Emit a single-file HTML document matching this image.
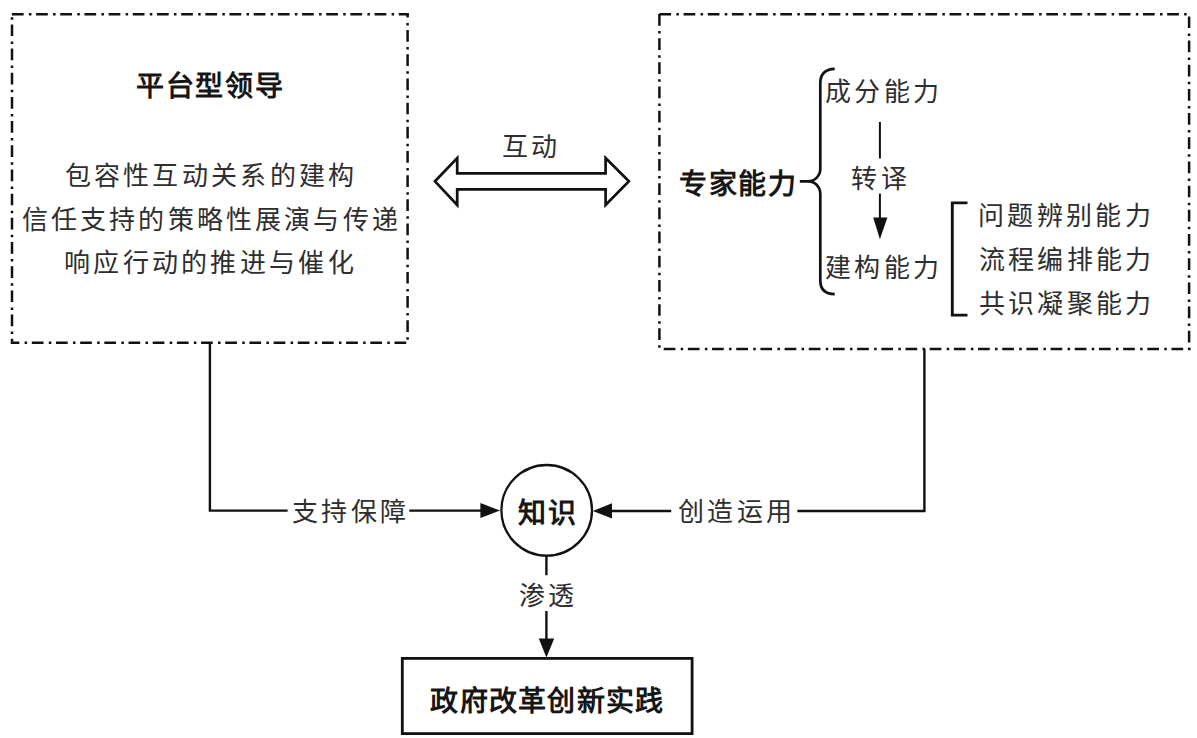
<!DOCTYPE html>
<html lang="zh-CN"><head><meta charset="utf-8">
<style>
html,body{margin:0;padding:0;background:#fff;}
body{width:1197px;height:738px;position:relative;overflow:hidden;font-family:"Liberation Serif",serif;color:#1a1a1a;}
svg{position:absolute;left:0;top:0;}
.t{position:absolute;white-space:nowrap;line-height:1;font-size:26px;letter-spacing:3.3px;color:#2e2e2e;}
.b{color:#161616;font-weight:bold;}
</style></head><body>
<svg width="1197" height="738" viewBox="0 0 1197 738">
<g stroke="#111" stroke-width="2.5" fill="none" stroke-dasharray="11.7 5.3 2.5 4.68">
<line x1="11.9" y1="14.2" x2="408.9" y2="14.2" stroke-dashoffset="0"/>
<line x1="12" y1="14" x2="12" y2="344" stroke-dashoffset="13.78"/>
<line x1="407.6" y1="14" x2="407.6" y2="344" stroke-dashoffset="8.08"/>
<line x1="12" y1="342.7" x2="408.9" y2="342.7" stroke-dashoffset="4.38"/>
<line x1="659.4" y1="14.2" x2="1190.4" y2="14.2" stroke-dashoffset="0"/>
<line x1="659.4" y1="14" x2="659.4" y2="350" stroke-dashoffset="0"/>
<line x1="1189.1" y1="14" x2="1189.1" y2="350" stroke-dashoffset="21.78"/>
<line x1="659.4" y1="348.9" x2="1190.4" y2="348.9" stroke-dashoffset="19.88"/>
</g>
<path d="M435,181.3 L457.2,158 L457.2,173.3 L605.6,173.3 L605.6,158 L628.9,181.3 L605.6,205 L605.6,189.3 L457.2,189.3 L457.2,205 Z" stroke="#111" stroke-width="2.7" fill="none" stroke-linejoin="miter"/>
<g stroke="#111" stroke-width="2.4" fill="none">
<!-- brace -->
<path d="M834.7,68.8 C825.5,69 820.3,74 820.3,83.5 L820.3,168.8 C820.3,175.7 814.9,181.3 808.3,181.3 L799.8,181.3 M808.3,181.3 C814.9,181.3 820.3,186.9 820.3,193.8 L820.3,280.5 C820.3,290 825.5,294 834.7,294.1" stroke-width="2.7"/>
<!-- bracket -->
<path d="M967.5,202.9 L952.3,202.9 L952.3,315.1 L967.5,315.1" stroke-width="2.9"/>
<!-- inner vertical line + arrow -->
<line x1="879.9" y1="122" x2="879.9" y2="158.5" stroke-width="2"/>
<line x1="879.9" y1="193.6" x2="879.9" y2="220" stroke-width="2"/>
<!-- connectors -->
<polyline points="209.9,342.7 209.9,510.6 287.6,510.6"/>
<line x1="409.3" y1="510.6" x2="482" y2="510.6"/>
<polyline points="924.4,348.9 924.4,511 797.4,511"/>
<line x1="671.2" y1="511" x2="610" y2="511"/>
<circle cx="546.7" cy="510.3" r="45.3" stroke-width="2.3"/>
<line x1="546.4" y1="555.7" x2="546.4" y2="575.2"/>
<line x1="546.4" y1="611" x2="546.4" y2="640"/>
<rect x="402.3" y="658.4" width="289.8" height="75.2" stroke-width="2.8"/>
</g>
<g fill="#111">
<path d="M873.2,217.4 L887.4,217.4 L879.9,239.2 Z"/>
<path d="M480.4,503 L480.4,518 L500,510.6 Z"/>
<path d="M612,503.3 L612,518.5 L592.8,511 Z"/>
<path d="M538.8,638.6 L554.2,638.6 L546.4,657.5 Z"/>
</g>
</svg>
<div class="t b" style="left:136.3px;top:72.5px;font-size:28px;letter-spacing:1.6px;">平台型领导</div>
<div class="t" style="left:64.5px;top:164.3px;">包容性互动关系的建构</div>
<div class="t" style="left:21.8px;top:207.5px;letter-spacing:3.17px;">信任支持的策略性展演与传递</div>
<div class="t" style="left:64.0px;top:250.6px;">响应行动的推进与催化</div>
<div class="t" style="left:502.0px;top:135.4px;">互动</div>
<div class="t b" style="left:679.0px;top:171.2px;font-size:28px;letter-spacing:1.6px;">专家能力</div>
<div class="t" style="left:825.0px;top:80.2px;">成分能力</div>
<div class="t" style="left:851.3px;top:167.0px;">转译</div>
<div class="t" style="left:825.0px;top:256.2px;">建构能力</div>
<div class="t" style="left:978.2px;top:204.2px;">问题辨别能力</div>
<div class="t" style="left:978.8px;top:248.0px;">流程编排能力</div>
<div class="t" style="left:978.8px;top:292.3px;">共识凝聚能力</div>
<div class="t" style="left:292.0px;top:500.0px;">支持保障</div>
<div class="t" style="left:678.2px;top:500.0px;">创造运用</div>
<div class="t b" style="left:518px;top:499.5px;font-size:28px;letter-spacing:1.6px;">知识</div>
<div class="t" style="left:519.0px;top:583.5px;">渗透</div>
<div class="t b" style="left:430.4px;top:687.5px;font-size:28px;letter-spacing:1.25px;">政府改革创新实践</div>
</body></html>
